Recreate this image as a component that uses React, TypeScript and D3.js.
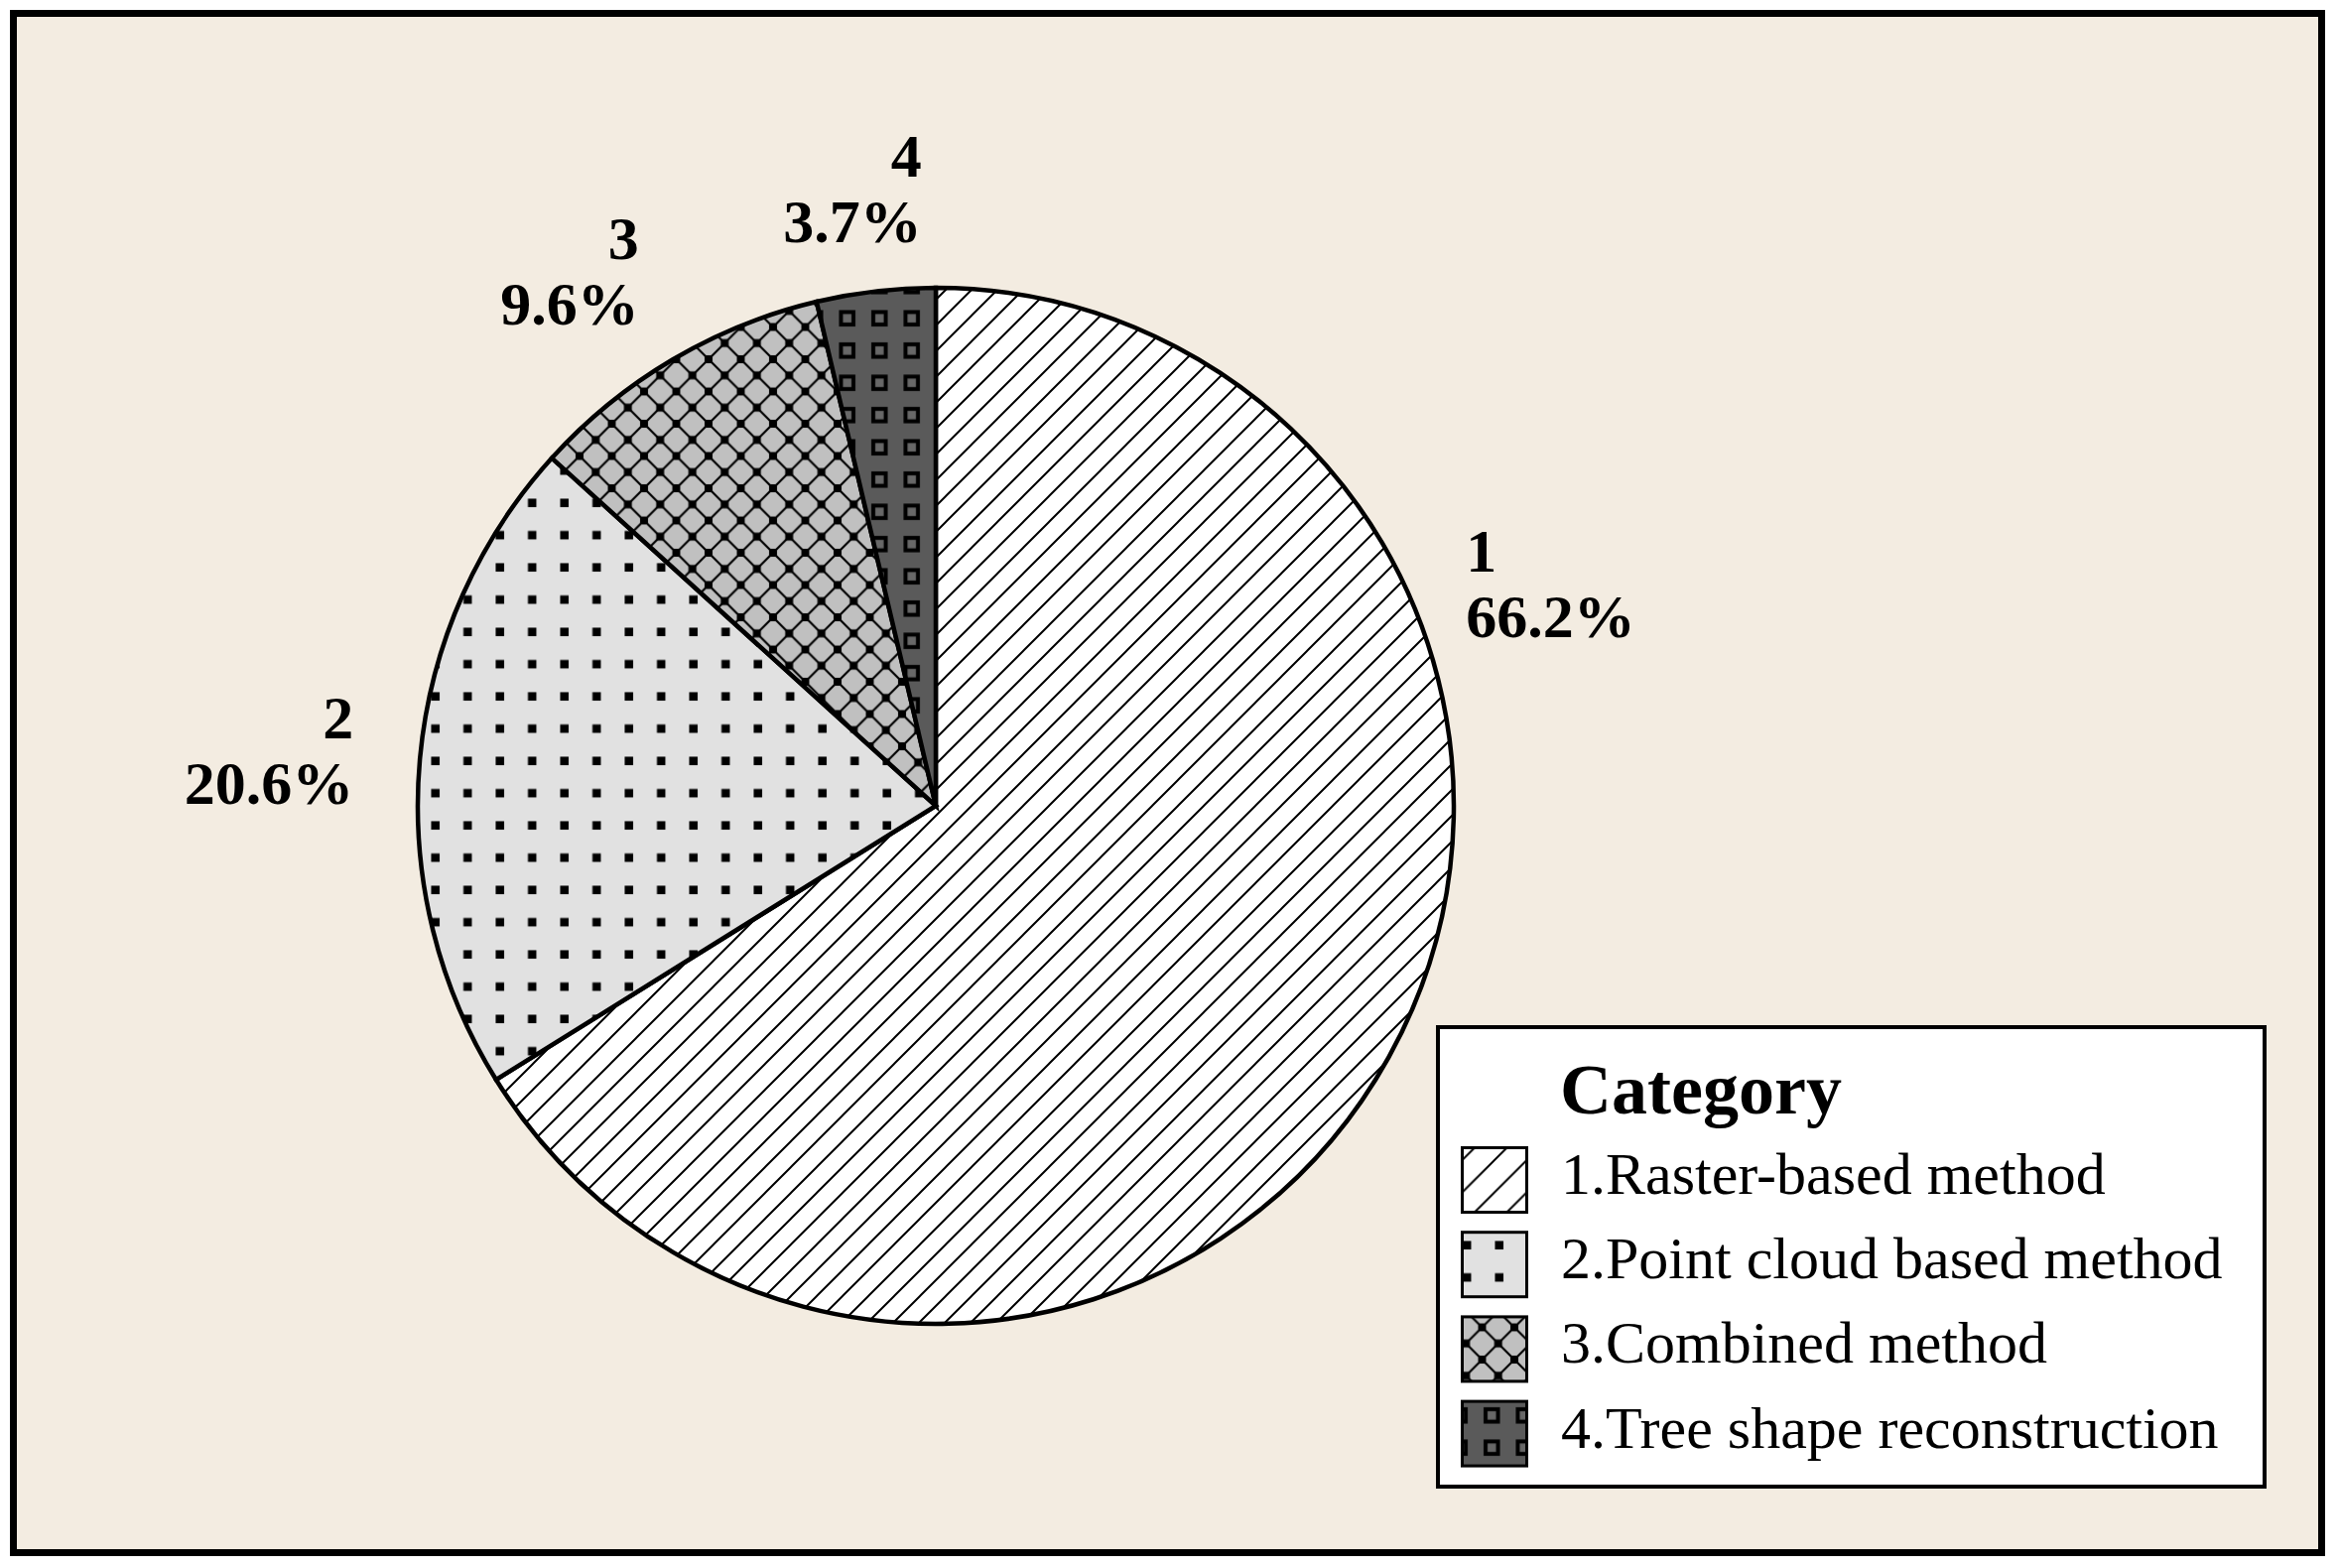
import React, { useEffect, useRef } from 'react';
import * as d3 from 'd3';

// chart data
const categories = ['1', '2', '3', '4'];
const percents = [66.2, 20.6, 9.6, 3.7];
const legendTitle = 'Category';
const legendNames = [
  '1.Raster-based method',
  '2.Point cloud based method',
  '3.Combined method',
  '4.Tree shape reconstruction',
];

const W = 2357;
const H = 1580;
const FONT = "'Liberation Serif', 'Times New Roman', serif";

const App = () => {
  const svgRef = useRef<SVGSVGElement>(null);

  useEffect(() => {
    const svg = d3.select(svgRef.current);
    svg.selectAll('*').remove();

    const defs = svg.append('defs');
    const P = 32.5;

    // "/" hatch, a tighter one for the pie and a wider one for the legend key
    const hatch = (id: string, size: number) => {
      const p = defs.append('pattern').attr('id', id)
        .attr('patternUnits', 'userSpaceOnUse').attr('width', size).attr('height', size)
        .attr('x', 10).attr('y', 0);
      p.append('rect').attr('width', size).attr('height', size).attr('fill', '#ffffff');
      p.append('path')
        .attr('d', `M${-size / 2},${size / 2} L${size / 2},${-size / 2} M0,${size} L${size},0 M${size / 2},${size * 1.5} L${size * 1.5},${size / 2}`)
        .attr('stroke', '#000').attr('stroke-width', 2).attr('fill', 'none');
    };
    hatch('pat1', 26);
    hatch('pat1k', P);

    // 2: light gray with square dots
    const p2 = defs.append('pattern').attr('id', 'pat2')
      .attr('patternUnits', 'userSpaceOnUse').attr('width', P).attr('height', P)
      .attr('x', 31.75).attr('y', 3.25);
    p2.append('rect').attr('width', P).attr('height', P).attr('fill', '#e1e1e1');
    p2.append('rect').attr('x', P / 2 - 4).attr('y', P / 2 - 4).attr('width', 8.5).attr('height', 8.5).attr('fill', '#000');

    // 3: gray with diagonal crosshatch
    const p3 = defs.append('pattern').attr('id', 'pat3')
      .attr('patternUnits', 'userSpaceOnUse').attr('width', P).attr('height', P)
      .attr('x', 31).attr('y', 5);
    p3.append('rect').attr('width', P).attr('height', P).attr('fill', '#c0c0c0');
    p3.append('path')
      .attr('d', `M0,0 L${P},${P} M0,${P} L${P},0`)
      .attr('stroke', '#000').attr('stroke-width', 2.2).attr('fill', 'none');
    [[0, 0], [P, 0], [0, P], [P, P], [P / 2, P / 2]].forEach(([x, y]) => {
      p3.append('rect').attr('x', x - 4).attr('y', y - 4).attr('width', 8).attr('height', 8).attr('fill', '#000');
    });

    // 4: dark gray with outlined squares
    const p4 = defs.append('pattern').attr('id', 'pat4')
      .attr('patternUnits', 'userSpaceOnUse').attr('width', P).attr('height', P)
      .attr('x', 24.5).attr('y', 12.5);
    p4.append('rect').attr('width', P).attr('height', P).attr('fill', '#5a5a5a');
    p4.append('rect').attr('x', 10).attr('y', 10).attr('width', 12.5).attr('height', 12.5)
      .attr('fill', '#686868').attr('stroke', '#000').attr('stroke-width', 4);

    const fills = ['url(#pat1)', 'url(#pat2)', 'url(#pat3)', 'url(#pat4)'];
    const keyFills = ['url(#pat1k)', 'url(#pat2)', 'url(#pat3)', 'url(#pat4)'];

    // frame
    svg.append('rect')
      .attr('x', 13.5).attr('y', 13.5).attr('width', 2326).attr('height', 1551)
      .attr('fill', '#f3ece1').attr('stroke', '#000').attr('stroke-width', 7);

    // pie
    const cx = 943;
    const cy = 812;
    const radius = 522;
    const pie = d3.pie<number>().sort(null).value(d => d);
    const arcs = pie(percents);
    const arc = d3.arc<d3.PieArcDatum<number>>().innerRadius(0).outerRadius(radius);

    const g = svg.append('g').attr('transform', `translate(${cx},${cy})`);
    g.selectAll('path.slice')
      .data(arcs)
      .enter().append('path')
      .attr('class', 'slice')
      .attr('d', arc)
      .attr('fill', (d, i) => fills[i])
      .attr('stroke', '#000')
      .attr('stroke-width', 4.5)
      .attr('stroke-linejoin', 'miter');

    // slice labels
    const labelR = 572;
    const lineGap = 66;
    const capH = 42;
    const blockH = capH + lineGap;
    arcs.forEach((a, i) => {
      const span = a.endAngle - a.startAngle;
      const theta = span > Math.PI ? a.startAngle + span * 0.29 : (a.startAngle + a.endAngle) / 2;
      const s = Math.sin(theta);
      const c = Math.cos(theta);
      const px = cx + labelR * s;
      const py = cy - labelR * c;

      const lg = svg.append('g')
        .attr('font-family', FONT).attr('font-weight', 'bold').attr('font-size', 62).attr('fill', '#000');
      const t1 = lg.append('text').text(categories[i]);
      const t2 = lg.append('text').text(`${percents[i]}%`);
      const w = Math.max(
        (t1.node() as SVGTextElement).getComputedTextLength(),
        (t2.node() as SVGTextElement).getComputedTextLength()
      );
      const f = Math.max(-1.2, Math.min(1, s * 2.2));
      const ccx = px + (w / 2) * f;
      const ccy = py - (blockH / 2) * c;
      const top = ccy - blockH / 2;
      const right = s < 0;
      const x = right ? ccx + w / 2 : ccx - w / 2;
      t1.attr('x', x).attr('y', top + capH).attr('text-anchor', right ? 'end' : 'start');
      t2.attr('x', x).attr('y', top + capH + lineGap).attr('text-anchor', right ? 'end' : 'start');
    });

    // legend
    const lx = 1447;
    const ly = 1033;
    const lw = 837;
    const lh = 467;
    svg.append('rect')
      .attr('x', lx + 2).attr('y', ly + 2).attr('width', lw - 4).attr('height', lh - 4)
      .attr('fill', '#ffffff').attr('stroke', '#000').attr('stroke-width', 4);

    svg.append('text')
      .attr('x', lx + 125).attr('y', ly + 89)
      .attr('font-family', FONT).attr('font-weight', 'bold').attr('font-size', 72)
      .attr('fill', '#000')
      .text(legendTitle);

    const step = 85.2;
    legendNames.forEach((name, i) => {
      const y0 = ly + 122 + i * step;
      svg.append('rect')
        .attr('x', lx + 26.5).attr('y', y0 + 1.5).attr('width', 65).attr('height', 65)
        .attr('fill', keyFills[i]).attr('stroke', '#000').attr('stroke-width', 3);
      svg.append('text')
        .attr('x', lx + 126).attr('y', y0 + 48)
        .attr('font-family', FONT).attr('font-size', 60).attr('fill', '#000')
        .text(name);
    });
  }, []);

  return (
    <svg
      ref={svgRef}
      width={W}
      height={H}
      style={{ position: 'absolute', left: 0, top: 0, display: 'block', background: '#ffffff' }}
    />
  );
};

export default App;
